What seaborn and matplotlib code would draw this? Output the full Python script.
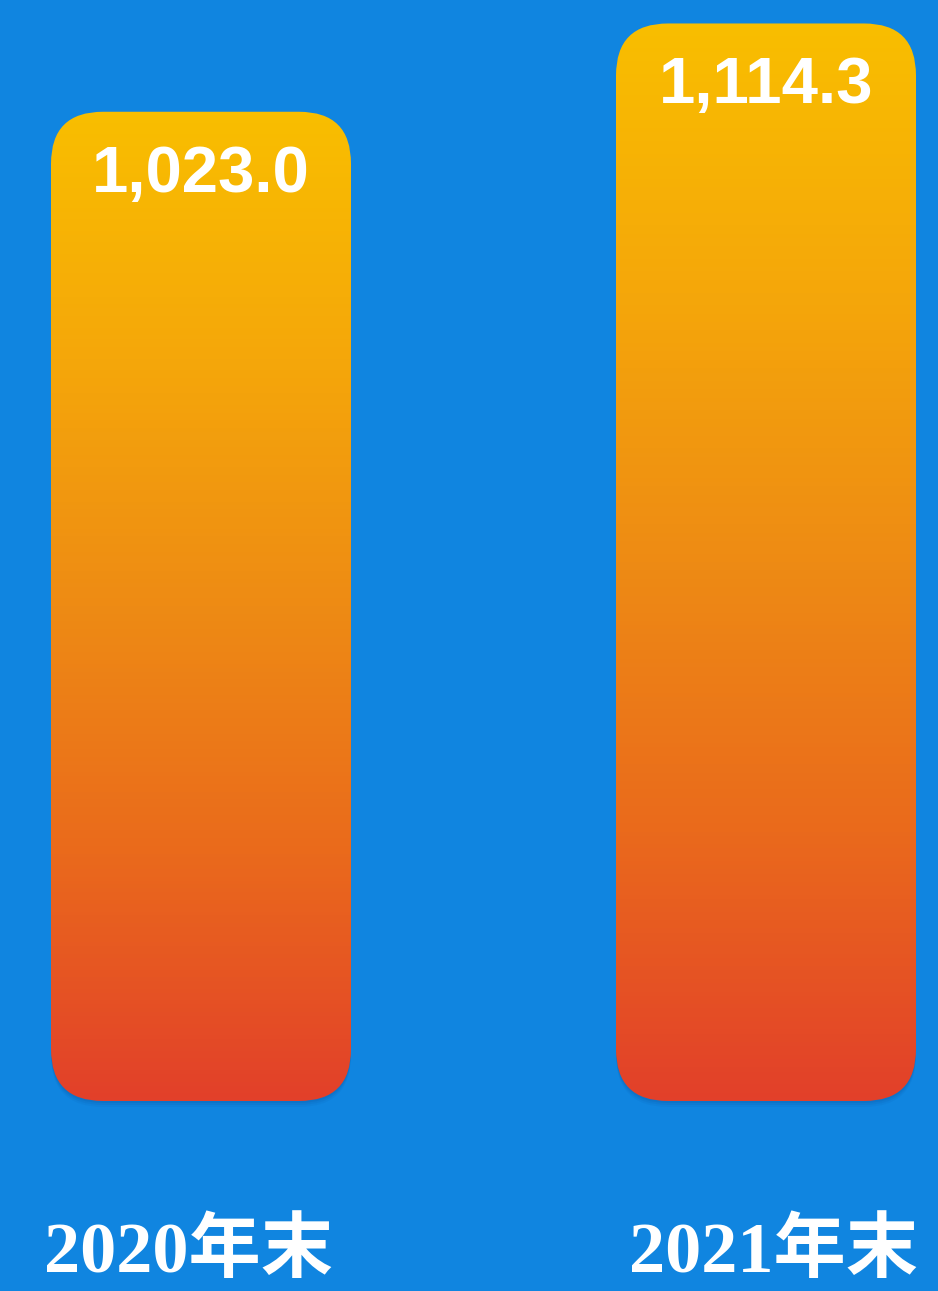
import numpy as np
import pandas as pd
import matplotlib
matplotlib.use('Agg')
import matplotlib.pyplot as plt
import seaborn as sns
from matplotlib.patches import FancyBboxPatch
from matplotlib.colors import LinearSegmentedColormap

# data
categories = ['2020年末', '2021年末']
values = [1023.0, 1114.3]
value_labels = ['1,023.0', '1,114.3']

df = pd.DataFrame({'period': categories, 'value': values})

BG = '#1085E0'
grad_cmap = LinearSegmentedColormap.from_list(
    'bar_grad', ['#E2402A', '#EA6A1C', '#EE8B14', '#F5A70A', '#F9BE00'])

sns.set_theme(style='white')
plt.rcParams['font.family'] = ['Liberation Serif', 'Noto Sans CJK SC']

W, H = 938, 1291
fig = plt.figure(figsize=(W / 100, H / 100), dpi=100)
fig.patch.set_facecolor(BG)
ax = fig.add_axes([0, 0, 1, 1])
ax.set_facecolor(BG)

sns.barplot(data=df, x='period', y='value', width=0.531, ax=ax)

# pixel scale used to place the axes so bars land where they do in the reference
px_x = 565.0          # pixels per category step
px_y = 0.967          # pixels per value unit
base_px = 1101        # baseline, pixels from top
xlim = (-201 / px_x, (W - 201) / px_x)
ylim = (-(H - base_px) / px_y, base_px / px_y)

radius_px = 52
aspect = px_x / px_y
grad = np.linspace(0, 1, 256).reshape(-1, 1)
style = f'round,pad=0,rounding_size={radius_px / px_x}'

for i, patch in enumerate(list(ax.patches)):
    x0, w, h = patch.get_x(), patch.get_width(), patch.get_height()
    patch.set_visible(False)

    # soft shadow under the bar
    for k, a in [(6, 0.06), (4, 0.08), (2, 0.10)]:
        sh = FancyBboxPatch((x0, -k / px_y), w, h, boxstyle=style,
                            mutation_aspect=aspect, facecolor='#0A3E80',
                            edgecolor='none', alpha=a, zorder=1)
        ax.add_patch(sh)

    box = FancyBboxPatch((x0, 0), w, h, boxstyle=style,
                         mutation_aspect=aspect, facecolor='none',
                         edgecolor='none', zorder=2)
    ax.add_patch(box)
    im = ax.imshow(grad, extent=[x0, x0 + w, 0, h], origin='lower',
                   aspect='auto', cmap=grad_cmap, zorder=2)
    im.set_clip_path(box)

    ax.text(x0 + w / 2, h - 80 / px_y, value_labels[i], ha='center', va='baseline',
            color='white', fontsize=47, fontweight='bold', family='Liberation Sans',
            zorder=3)

    # category label, nudged a little as in the reference
    shift = (-13 + 20 * i) / px_x
    ax.text(x0 + w / 2 + shift, -(1272 - base_px) / px_y, categories[i],
            ha='center', va='baseline', color='white', fontsize=52,
            fontweight='bold', family=['Liberation Serif', 'Noto Sans CJK SC'],
            zorder=3)

ax.set_xlim(*xlim)
ax.set_ylim(*ylim)
ax.axis('off')

fig.savefig('out.png', dpi=100, facecolor=BG)
